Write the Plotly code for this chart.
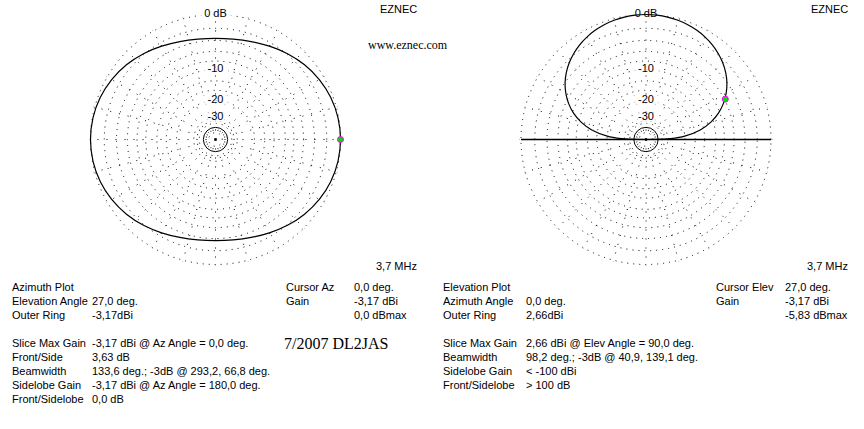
import plotly.graph_objects as go

# ---------------- data ----------------
# Azimuth pattern (dB relative to slice max, outer ring = -3.17 dBi), every 10 deg from 0 to 360
az_theta = [0, 10, 20, 30, 40, 50, 60, 70, 80, 90, 100, 110, 120, 130, 140, 150, 160, 170, 180,
            190, 200, 210, 220, 230, 240, 250, 260, 270, 280, 290, 300, 310, 320, 330, 340, 350, 360]
az_db = [0.0, -0.08, -0.32, -0.72, -1.25, -1.88, -2.55, -3.12, -3.50, -3.63, -3.50, -3.12, -2.55,
         -1.88, -1.25, -0.72, -0.32, -0.08, 0.0, -0.08, -0.32, -0.72, -1.25, -1.88, -2.55, -3.12,
         -3.50, -3.63, -3.50, -3.12, -2.55, -1.88, -1.25, -0.72, -0.32, -0.08, 0.0]

# Elevation pattern (dB relative to max 2.66 dBi), elevation angle 0..180
el_theta = [0, 1, 2, 5, 10, 15, 20, 25, 30, 35, 40, 45, 50, 55, 60, 65, 70, 75, 80, 85, 90,
            95, 100, 105, 110, 115, 120, 125, 130, 135, 140, 145, 150, 155, 160, 165, 170, 175, 178, 179, 180]
el_db = [-100, -34.0, -28.0, -20.05, -14.08, -10.66, -8.29, -6.53, -5.15, -4.04, -3.15, -2.42, -1.83,
         -1.34, -0.95, -0.64, -0.40, -0.22, -0.10, -0.02, 0.0, -0.02, -0.10, -0.22, -0.40, -0.64, -0.95,
         -1.34, -1.83, -2.42, -3.15, -4.04, -5.15, -6.53, -8.29, -10.66, -14.08, -20.05, -28.0, -34.0, -100]

# cursors
az_cursor_theta = [0.0]
az_cursor_db = [0.0]
el_cursor_theta = [27.0]
el_cursor_db = [-5.83]

# grid (ARRL log scale)
ring_db = [0, -2, -4, -6, -8, -10, -13, -16, -20, -30, -35, -50]
solid_ring_db = [-40]
ring_label_db = [0, -10, -20, -30]
ring_label_text = ["0 dB", "-10", "-20", "-30"]
ring_label_width = [26, 19, 19, 19]
radial_angles = list(range(0, 360, 15))

# text blocks
left_labels = ["Azimuth Plot", "Elevation Angle", "Outer Ring", "Slice Max Gain", "Front/Side",
               "Beamwidth", "Sidelobe Gain", "Front/Sidelobe"]
left_values = ["", "27,0 deg.", "-3,17dBi", "-3,17 dBi @ Az Angle = 0,0 deg.", "3,63 dB",
               "133,6 deg.; -3dB @ 293,2, 66,8 deg.", "-3,17 dBi @ Az Angle = 180,0 deg.", "0,0 dB"]
left_rows = [287, 301, 315, 343, 357, 371, 385, 399]
left_cursor_labels = ["Cursor Az", "Gain", ""]
left_cursor_values = ["0,0 deg.", "-3,17 dBi", "0,0 dBmax"]

right_labels = ["Elevation Plot", "Azimuth Angle", "Outer Ring", "Slice Max Gain", "Beamwidth",
                "Sidelobe Gain", "Front/Sidelobe"]
right_values = ["", "0,0 deg.", "2,66dBi", "2,66 dBi @ Elev Angle = 90,0 deg.",
                "98,2 deg.; -3dB @ 40,9, 139,1 deg.", "< -100 dBi", "> 100 dB"]
right_rows = [287, 301, 315, 343, 357, 371, 385]
right_cursor_labels = ["Cursor Elev", "Gain", ""]
right_cursor_values = ["27,0 deg.", "-3,17 dBi", "-5,83 dBmax"]
cursor_rows = [287, 301, 315]

# ---------------- helpers ----------------
W, H = 864, 429


def arrl(db):
    return 0.89 ** (-db / 2.0)


def arrl_list(vals):
    return [arrl(v) for v in vals]


R_PX = 125.0
RMAX = 1.01
HALF = R_PX * RMAX
CY = 139.5
centers = {"polar": 215.5, "polar2": 215.5, "polar3": 646.0, "polar4": 646.0}


def domain(cx):
    return dict(x=[(cx - HALF) / W, (cx + HALF) / W],
                y=[(H - CY - HALF) / H, (H - CY + HALF) / H])


SANS = "Liberation Sans, Arial, sans-serif"
SERIF = "Liberation Serif, Times New Roman, serif"

fig = go.Figure()

for grid_sp, over_sp, pat_theta, pat_db, cur_t, cur_db, horizon in [
        ("polar", "polar2", az_theta, az_db, az_cursor_theta, az_cursor_db, False),
        ("polar3", "polar4", el_theta, el_db, el_cursor_theta, el_cursor_db, True)]:
    # ring labels with white backing
    fig.add_trace(go.Scatterpolar(
        r=arrl_list(ring_label_db), theta=[90] * len(ring_label_db),
        mode="markers+text", text=ring_label_text, textposition="middle center",
        textfont=dict(family=SANS, size=11, color="black"),
        marker=dict(symbol="line-ew", size=ring_label_width, color="white",
                    line=dict(color="white", width=11)),
        cliponaxis=False, hoverinfo="skip", showlegend=False, subplot=grid_sp))
    if horizon:
        fig.add_trace(go.Scatterpolar(
            r=[1, 0, 1], theta=[0, 0, 180], mode="lines",
            line=dict(color="black", width=1.3),
            cliponaxis=False, hoverinfo="skip", showlegend=False, subplot=grid_sp))
    fig.add_trace(go.Scatterpolar(
        r=arrl_list(pat_db), theta=pat_theta, mode="lines",
        line=dict(color="black", width=1.2, shape="spline", smoothing=1.0),
        cliponaxis=False, hoverinfo="skip", showlegend=False, subplot=grid_sp))
    fig.add_trace(go.Scatterpolar(
        r=arrl_list(cur_db), theta=cur_t, mode="markers",
        marker=dict(symbol="circle", size=6, color="#00e000",
                    line=dict(color="#ff00ff", width=1)),
        cliponaxis=False, hoverinfo="skip", showlegend=False, subplot=grid_sp))
    # overlay subplot carrying the solid ring
    fig.add_trace(go.Scatterpolar(
        r=[0], theta=[0], mode="lines", line=dict(width=0),
        hoverinfo="skip", showlegend=False, subplot=over_sp))

polar_common_ang = dict(rotation=0, direction="counterclockwise", showticklabels=False,
                        ticks="", showline=False)

layout_polars = {}
for sp in ["polar", "polar3"]:
    layout_polars[sp] = dict(
        domain=domain(centers[sp]), bgcolor="white",
        radialaxis=dict(range=[0, RMAX], tickvals=arrl_list(ring_db), showticklabels=False,
                        ticks="", showline=False, showgrid=True, gridcolor="black",
                        gridwidth=1, griddash="1px,5px"),
        angularaxis=dict(tickvals=radial_angles, showgrid=True, gridcolor="black",
                         gridwidth=1, griddash="1px,8px", **polar_common_ang))
for sp in ["polar2", "polar4"]:
    layout_polars[sp] = dict(
        domain=domain(centers[sp]), bgcolor="rgba(0,0,0,0)",
        radialaxis=dict(range=[0, RMAX], tickvals=arrl_list(solid_ring_db), showticklabels=False,
                        ticks="", showline=False, showgrid=True, gridcolor="black",
                        gridwidth=1.3),
        angularaxis=dict(showgrid=False, **polar_common_ang))

annotations = []


def txt(text, x, y, size=11, family=SANS, anchor="left"):
    annotations.append(dict(text=text, x=x / W, y=1 - y / H, xref="paper", yref="paper",
                            xanchor=anchor, yanchor="middle", showarrow=False,
                            font=dict(family=family, size=size, color="black")))


for lab, val, row in zip(left_labels, left_values, left_rows):
    txt(lab, 10, row)
    if val:
        txt(val, 90, row)
for lab, val, row in zip(left_cursor_labels, left_cursor_values, cursor_rows):
    if lab:
        txt(lab, 284, row)
    txt(val, 352, row)
for lab, val, row in zip(right_labels, right_values, right_rows):
    txt(lab, 441, row)
    if val:
        txt(val, 524, row)
for lab, val, row in zip(right_cursor_labels, right_cursor_values, cursor_rows):
    if lab:
        txt(lab, 714, row)
    txt(val, 783, row)

txt("7/2007 DL2JAS", 282, 343, size=16, family=SERIF)
txt("www.eznec.com", 408, 45, size=12, family=SERIF, anchor="center")
txt("EZNEC", 419, 9, anchor="right")
txt("EZNEC", 850, 9, anchor="right")
txt("3,7 MHz", 419, 266, anchor="right")
txt("3,7 MHz", 850, 266, anchor="right")

fig.update_layout(width=W, height=H, margin=dict(l=0, r=0, t=0, b=0),
                  paper_bgcolor="white", plot_bgcolor="white", showlegend=False,
                  annotations=annotations, **layout_polars)

fig.write_html("out.html")
